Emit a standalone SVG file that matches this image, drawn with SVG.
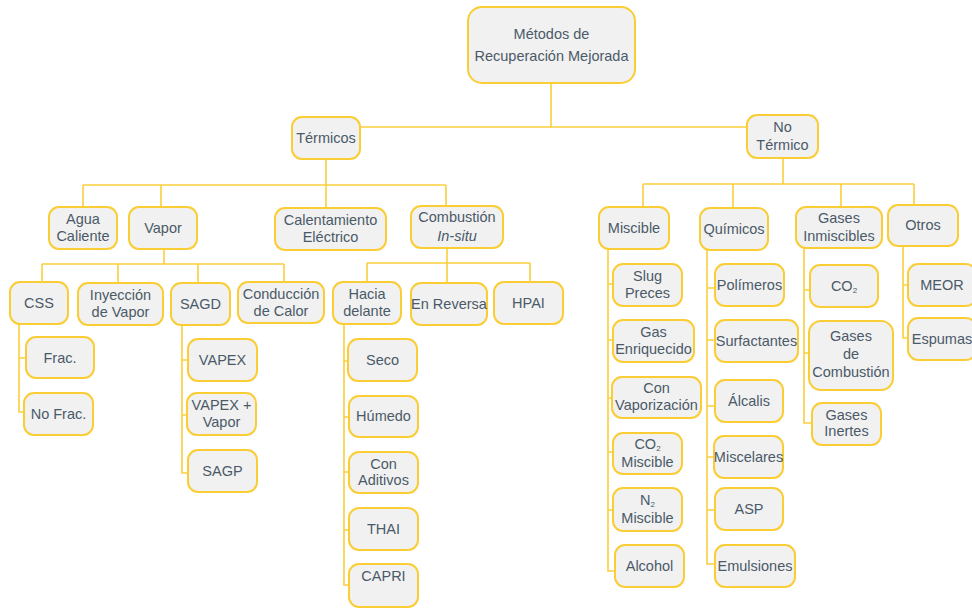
<svg xmlns="http://www.w3.org/2000/svg" width="972" height="609" viewBox="0 0 972 609">
<defs>
<style>
.n rect{fill:#f1f1f1;stroke:#fbcd35;stroke-width:2}
.n text{font-family:"Liberation Sans",Arial,sans-serif;font-size:14.5px;fill:#4b5a68;text-anchor:middle}
.c path{fill:none;stroke:#fbcf3c;stroke-width:1.6}
.sub{font-size:8px}
</style>
</defs>
<rect width="972" height="609" fill="#ffffff"/>
<g class="c" id="connectors">
<path d="M551,83V127M360,127H747"/>
<path d="M326,159V185M83,185H446M83,185V207M161,185V207M326,185V208M446,185V206"/>
<path d="M164,249V264M42,264H284M42,264V282M118,264V283M198,264V283M284,264V282"/>
<path d="M447,248V263M367,263H530M367,263V282M447,263V283M530,263V282"/>
<path d="M19,324V412H24M19,358H26"/>
<path d="M182,325V473H188M182,360H188M182,415H187"/>
<path d="M344,324V585H349M344,361H348M344,417H349M344,472H349M344,530H349"/>
<path d="M783,158V184M643,184H914M643,184V207M733,184V208M841,184V207M914,184V205"/>
<path d="M608,249V571H615M608,284H613M608,340H613M608,398H612M608,452H613M608,510H613"/>
<path d="M707,250V564H715M707,288H715M707,340H715M707,406H715M707,457H714M707,510H715"/>
<path d="M804,248V423H812M804,290H810M804,353H809"/>
<path d="M903,246V338H908M903,285H908"/>
</g>
<g class="n" id="root"><rect x="468" y="7" width="167" height="76" rx="14"/><text x="551.5" y="39">Métodos de</text><text x="551.5" y="61">Recuperación Mejorada</text></g>
<g class="n" id="termicos"><rect x="292" y="117" width="68" height="42" rx="10"/><text x="326" y="143">Térmicos</text></g>
<g class="n" id="no-termico"><rect x="747" y="115" width="71" height="43" rx="10"/><text x="782.5" y="132">No</text><text x="782.5" y="150">Térmico</text></g>
<g class="n" id="agua"><rect x="49" y="207" width="68" height="42" rx="10"/><text x="83" y="224">Agua</text><text x="83" y="241">Caliente</text></g>
<g class="n" id="vapor"><rect x="129" y="207" width="68" height="42" rx="10"/><text x="163" y="233">Vapor</text></g>
<g class="n" id="calentamiento"><rect x="275" y="208" width="111" height="42" rx="10"/><text x="330.5" y="225">Calentamiento</text><text x="330.5" y="242">Eléctrico</text></g>
<g class="n" id="combustion"><rect x="411" y="206" width="92" height="42" rx="10"/><text x="457" y="222">Combustión</text><text x="457" y="241" font-style="italic">In-situ</text></g>
<g class="n" id="css"><rect x="10" y="282" width="58" height="42" rx="10"/><text x="39" y="308">CSS</text></g>
<g class="n" id="inyeccion"><rect x="78" y="283" width="85" height="42" rx="10"/><text x="120.5" y="300">Inyección</text><text x="120.5" y="317">de Vapor</text></g>
<g class="n" id="sagd"><rect x="171" y="283" width="59" height="42" rx="10"/><text x="200.5" y="309">SAGD</text></g>
<g class="n" id="conduccion"><rect x="238" y="282" width="86" height="41" rx="10"/><text x="281" y="299">Conducción</text><text x="281" y="316">de Calor</text></g>
<g class="n" id="hacia"><rect x="333" y="282" width="68" height="42" rx="10"/><text x="367" y="299">Hacia</text><text x="367" y="316">delante</text></g>
<g class="n" id="reversa"><rect x="411" y="283" width="76" height="42" rx="10"/><text x="449" y="309">En Reversa</text></g>
<g class="n" id="hpai"><rect x="494" y="282" width="69" height="42" rx="10"/><text x="528.5" y="308">HPAI</text></g>
<g class="n" id="frac"><rect x="26" y="337" width="68" height="41" rx="10"/><text x="60" y="363">Frac.</text></g>
<g class="n" id="nofrac"><rect x="24" y="393" width="69" height="42" rx="10"/><text x="58.5" y="419">No Frac.</text></g>
<g class="n" id="vapex"><rect x="188" y="339" width="69" height="42" rx="10"/><text x="222.5" y="365">VAPEX</text></g>
<g class="n" id="vapexvapor"><rect x="187" y="393" width="69" height="42" rx="10"/><text x="221.5" y="410">VAPEX +</text><text x="221.5" y="427">Vapor</text></g>
<g class="n" id="sagp"><rect x="188" y="450" width="69" height="42" rx="10"/><text x="222.5" y="476">SAGP</text></g>
<g class="n" id="seco"><rect x="348" y="339" width="69" height="42" rx="10"/><text x="382.5" y="365">Seco</text></g>
<g class="n" id="humedo"><rect x="349" y="396" width="69" height="41" rx="10"/><text x="383.5" y="421">Húmedo</text></g>
<g class="n" id="aditivos"><rect x="349" y="452" width="69" height="41" rx="10"/><text x="383.5" y="469">Con</text><text x="383.5" y="485">Aditivos</text></g>
<g class="n" id="thai"><rect x="349" y="508" width="69" height="42" rx="10"/><text x="383.5" y="534">THAI</text></g>
<g class="n" id="capri"><rect x="349" y="564" width="69" height="43" rx="10"/><text x="383.5" y="581">CAPRI</text></g>
<g class="n" id="miscible"><rect x="599" y="207" width="70" height="42" rx="10"/><text x="634" y="233">Miscible</text></g>
<g class="n" id="quimicos"><rect x="700" y="208" width="68" height="42" rx="10"/><text x="734" y="234">Químicos</text></g>
<g class="n" id="inmiscibles"><rect x="796" y="207" width="86" height="41" rx="10"/><text x="839" y="223">Gases</text><text x="839" y="241">Inmiscibles</text></g>
<g class="n" id="otros"><rect x="888" y="205" width="70" height="41" rx="10"/><text x="923" y="230">Otros</text></g>
<g class="n" id="slug"><rect x="613" y="264" width="69" height="42" rx="10"/><text x="647.5" y="281">Slug</text><text x="647.5" y="298">Preces</text></g>
<g class="n" id="polimeros"><rect x="715" y="264" width="69" height="42" rx="10"/><text x="749.5" y="290">Polímeros</text></g>
<g class="n" id="co2"><rect x="810" y="265" width="68" height="42" rx="10"/><text x="844" y="291">CO<tspan class="sub" dy="2">2</tspan></text></g>
<g class="n" id="meor"><rect x="908" y="264" width="68" height="42" rx="10"/><text x="942" y="290">MEOR</text></g>
<g class="n" id="enriquecido"><rect x="613" y="320" width="81" height="42" rx="10"/><text x="653.5" y="337">Gas</text><text x="653.5" y="354">Enriquecido</text></g>
<g class="n" id="surfactantes"><rect x="715" y="320" width="83" height="42" rx="10"/><text x="756.5" y="346">Surfactantes</text></g>
<g class="n" id="combustiongas"><rect x="809" y="321" width="84" height="69" rx="12"/><text x="851" y="341">Gases</text><text x="851" y="359">de</text><text x="851" y="377">Combustión</text></g>
<g class="n" id="espumas"><rect x="908" y="318" width="68" height="42" rx="10"/><text x="942" y="344">Espumas</text></g>
<g class="n" id="vaporizacion"><rect x="612" y="377" width="89" height="41" rx="10"/><text x="656.5" y="393">Con</text><text x="656.5" y="410">Vaporización</text></g>
<g class="n" id="alcalis"><rect x="715" y="380" width="68" height="42" rx="10"/><text x="749" y="406">Álcalis</text></g>
<g class="n" id="inertes"><rect x="812" y="403" width="69" height="42" rx="10"/><text x="846.5" y="420">Gases</text><text x="846.5" y="436">Inertes</text></g>
<g class="n" id="co2miscible"><rect x="613" y="433" width="69" height="41" rx="10"/><text x="647.5" y="449">CO<tspan class="sub" dy="2">2</tspan></text><text x="647.5" y="467">Miscible</text></g>
<g class="n" id="miscelares"><rect x="714" y="436" width="69" height="42" rx="10"/><text x="748.5" y="462">Miscelares</text></g>
<g class="n" id="n2miscible"><rect x="613" y="488" width="69" height="43" rx="10"/><text x="647.5" y="505">N<tspan class="sub" dy="2">2</tspan></text><text x="647.5" y="523">Miscible</text></g>
<g class="n" id="asp"><rect x="715" y="488" width="68" height="42" rx="10"/><text x="749" y="514">ASP</text></g>
<g class="n" id="alcohol"><rect x="615" y="545" width="69" height="42" rx="10"/><text x="649.5" y="571">Alcohol</text></g>
<g class="n" id="emulsiones"><rect x="715" y="545" width="80" height="42" rx="10"/><text x="755" y="571">Emulsiones</text></g>
</svg>
